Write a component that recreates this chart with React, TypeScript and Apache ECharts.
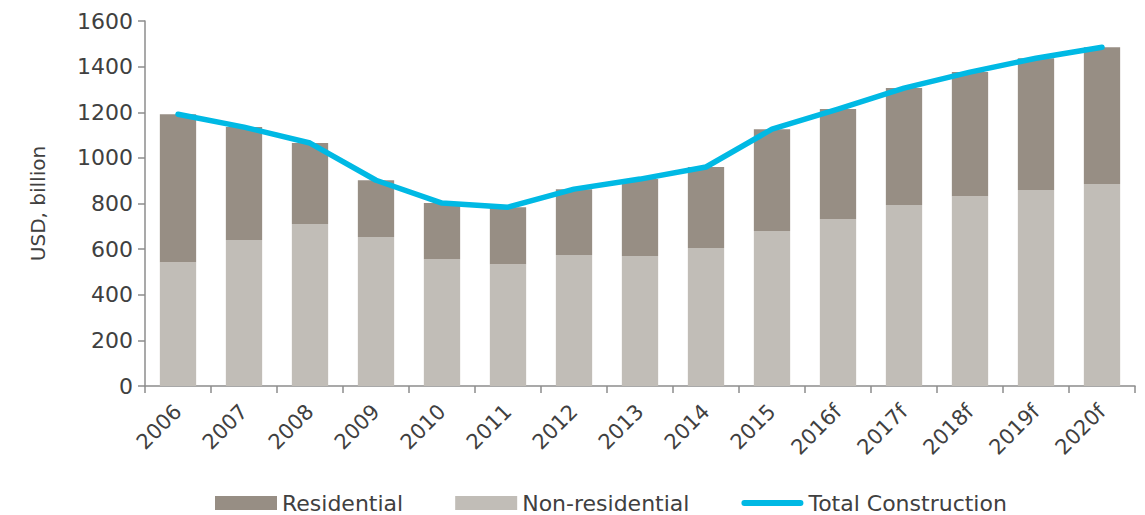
import React, { useEffect, useRef } from "react";
import * as echarts from "echarts";

const categories = ["2006", "2007", "2008", "2009", "2010", "2011", "2012", "2013", "2014", "2015", "2016f", "2017f", "2018f", "2019f", "2020f"];
const nonResidential = [543, 640, 710, 653, 556, 534, 574, 570, 605, 679, 731, 793, 832, 859, 885];
const totalConstruction = [1191, 1135, 1065, 902, 802, 784, 863, 907, 960, 1126, 1214, 1306, 1376, 1437, 1485];
const residential = totalConstruction.map((t, i) => t - nonResidential[i]);
const yTicks = [0, 200, 400, 600, 800, 1000, 1200, 1400, 1600];

const FONT = "DejaVu Sans";
const TEXT = "#404040";
const AXIS = "#8c8c8c";
const LINE_ICON = "path://M3,0 L61,0 A3,3 0 0 1 61,6 L3,6 A3,3 0 0 1 3,0 Z";

export default function App() {
  const ref = useRef<HTMLDivElement>(null);
  useEffect(() => {
    if (!ref.current) return;
    const chart = echarts.init(ref.current, undefined, { renderer: "svg" });
    chart.setOption({
      animation: false,
      textStyle: { fontFamily: FONT },
      grid: { left: 145, right: 10, top: 21, bottom: 129 },
      legend: {
        top: 487,
        left: 210,
        itemWidth: 62,
        itemHeight: 14,
        itemGap: 52,
        symbolKeepAspect: true,
        textStyle: { fontSize: 22, color: TEXT, fontFamily: FONT },
        data: [
          { name: "Residential", icon: "rect" },
          { name: "Non-residential", icon: "rect" },
          { name: "Total Construction", icon: LINE_ICON },
        ],
      },
      xAxis: {
        type: "category",
        data: categories,
        axisLine: { lineStyle: { color: AXIS, width: 1.5 } },
        axisTick: { show: true, length: 7, lineStyle: { color: AXIS, width: 1.5 } },
        axisLabel: { rotate: 45, fontSize: 21, color: TEXT, margin: 22, fontFamily: FONT },
      },
      yAxis: {
        type: "value",
        min: 0,
        max: 1600,
        interval: 200,
        name: "USD, billion",
        nameLocation: "middle",
        nameGap: 97,
        nameTextStyle: { fontSize: 20, color: TEXT, fontFamily: FONT },
        splitLine: { show: false },
        axisLine: { show: true, lineStyle: { color: AXIS, width: 1.5 } },
        axisTick: { show: true, length: 7, lineStyle: { color: AXIS, width: 1.5 } },
        axisLabel: {
          fontSize: 22,
          color: TEXT,
          margin: 12,
          fontFamily: FONT,
          formatter: (v: number) => (yTicks.includes(v) ? String(v) : ""),
        },
      },
      series: [
        {
          name: "Non-residential",
          type: "bar",
          stack: "total",
          data: nonResidential,
          barCategoryGap: "45%",
          itemStyle: { color: "#c1bdb7" },
        },
        {
          name: "Residential",
          type: "bar",
          stack: "total",
          data: residential,
          barCategoryGap: "45%",
          itemStyle: { color: "#978e84" },
        },
        {
          name: "Total Construction",
          type: "line",
          data: totalConstruction,
          symbol: "none",
          lineStyle: { color: "#00b9e4", width: 5.5, cap: "round", join: "round" },
          itemStyle: { color: "#00b9e4" },
          z: 5,
        },
      ],
    });
    return () => chart.dispose();
  }, []);
  return <div ref={ref} style={{ width: 1145, height: 515, position: "absolute", left: 0, top: 0 }} />;
}
